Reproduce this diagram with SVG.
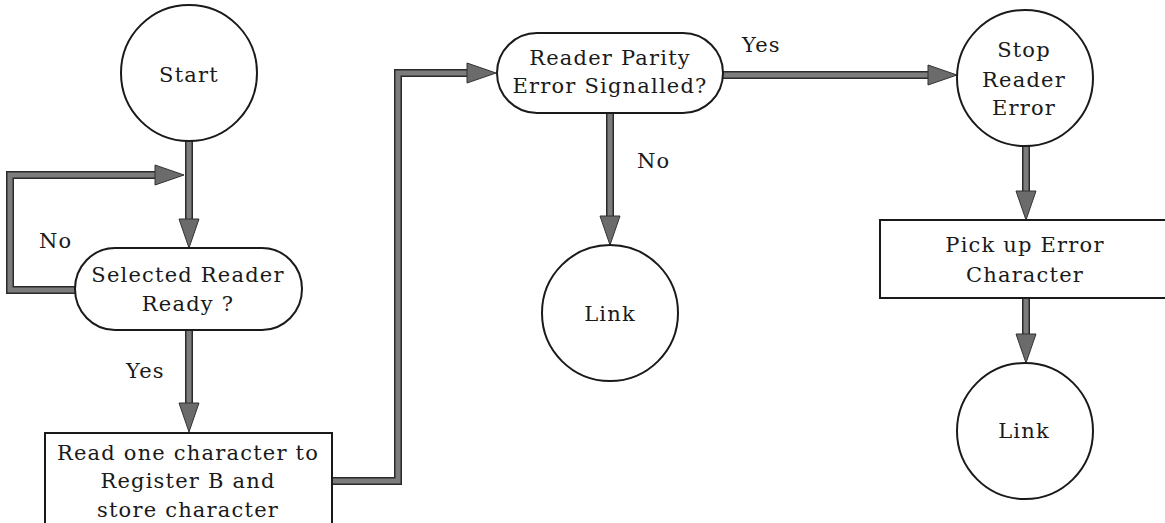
<svg xmlns="http://www.w3.org/2000/svg" xmlns:xlink="http://www.w3.org/1999/xlink" width="1165" height="523" viewBox="0 0 1165 523">
  <style>
    .shape { fill: #ffffff; stroke: #1a1a1a; stroke-width: 2; }
    .txt { font-family: "DejaVu Serif", "Liberation Serif", serif; font-size: 21px; letter-spacing: 1.2px; fill: #1a1a1a; text-anchor: middle; }
    .lbl { font-family: "DejaVu Serif", "Liberation Serif", serif; font-size: 21px; letter-spacing: 1.2px; fill: #1a1a1a; }
    .wire-out { fill: none; stroke: #2a2a2a; stroke-width: 8; stroke-linejoin: miter; }
    .wire-in { fill: none; stroke: #7c7c7c; stroke-width: 5; stroke-linejoin: miter; }
    .head { fill: #6b6b6b; stroke: #333333; stroke-width: 1; stroke-linejoin: round; }
  </style>
  <defs>
    <!-- arrowhead pointing down, tip at the origin -->
    <polygon id="ah" points="-10,-29 10,-29 0,0"/>
    <path id="w1" d="M189,141 V222"/>
    <path id="w2" d="M75,290 H10 V175 H158"/>
    <path id="w3" d="M189,330 V406"/>
    <path id="w4" d="M332,481 H398 V73 H469"/>
    <path id="w5" d="M610,113 V219"/>
    <path id="w6" d="M723,75 H931"/>
    <path id="w7" d="M1026,146 V194"/>
    <path id="w8" d="M1026,298 V337"/>
  </defs>

  <rect width="1165" height="523" fill="#ffffff"/>

  <g id="connectors">
    <use xlink:href="#w1" class="wire-out"/><use xlink:href="#w1" class="wire-in"/>
    <use xlink:href="#w2" class="wire-out"/><use xlink:href="#w2" class="wire-in"/>
    <use xlink:href="#w3" class="wire-out"/><use xlink:href="#w3" class="wire-in"/>
    <use xlink:href="#w4" class="wire-out"/><use xlink:href="#w4" class="wire-in"/>
    <use xlink:href="#w5" class="wire-out"/><use xlink:href="#w5" class="wire-in"/>
    <use xlink:href="#w6" class="wire-out"/><use xlink:href="#w6" class="wire-in"/>
    <use xlink:href="#w7" class="wire-out"/><use xlink:href="#w7" class="wire-in"/>
    <use xlink:href="#w8" class="wire-out"/><use xlink:href="#w8" class="wire-in"/>
    <use xlink:href="#ah" class="head" transform="translate(189,248)"/>
    <use xlink:href="#ah" class="head" transform="translate(184,175) rotate(-90)"/>
    <use xlink:href="#ah" class="head" transform="translate(189,432)"/>
    <use xlink:href="#ah" class="head" transform="translate(496,73) rotate(-90)"/>
    <use xlink:href="#ah" class="head" transform="translate(610,245)"/>
    <use xlink:href="#ah" class="head" transform="translate(957,75) rotate(-90)"/>
    <use xlink:href="#ah" class="head" transform="translate(1026,220)"/>
    <use xlink:href="#ah" class="head" transform="translate(1026,363)"/>
    <text class="lbl" x="39" y="248">No</text>
    <text class="lbl" x="126" y="378">Yes</text>
    <text class="lbl" x="637" y="168">No</text>
    <text class="lbl" x="742" y="52">Yes</text>
  </g>

  <g id="start">
    <circle class="shape" cx="189" cy="73" r="68"/>
    <text class="txt" x="189" y="82">Start</text>
  </g>

  <g id="reader-ready">
    <rect class="shape" x="75" y="248" width="227" height="82" rx="40" ry="41"/>
    <text class="txt" x="188" y="282">Selected Reader</text>
    <text class="txt" x="188" y="311">Ready ?</text>
  </g>

  <g id="read-char">
    <rect class="shape" x="45" y="433" width="287" height="110"/>
    <text class="txt" x="188" y="460">Read one character to</text>
    <text class="txt" x="188" y="488">Register B and</text>
    <text class="txt" x="188" y="517">store character</text>
  </g>

  <g id="parity-check">
    <rect class="shape" x="497" y="33" width="226" height="80" rx="40" ry="40"/>
    <text class="txt" x="610" y="65">Reader Parity</text>
    <text class="txt" x="610" y="93">Error Signalled?</text>
  </g>

  <g id="link-a">
    <circle class="shape" cx="610" cy="313" r="68"/>
    <text class="txt" x="610" y="321">Link</text>
  </g>

  <g id="stop-error">
    <circle class="shape" cx="1025" cy="78" r="68"/>
    <text class="txt" x="1024" y="57">Stop</text>
    <text class="txt" x="1024" y="87">Reader</text>
    <text class="txt" x="1024" y="115">Error</text>
  </g>

  <g id="pick-up">
    <rect class="shape" x="880" y="220" width="292" height="78"/>
    <text class="txt" x="1025" y="252">Pick up Error</text>
    <text class="txt" x="1025" y="282">Character</text>
  </g>

  <g id="link-b">
    <circle class="shape" cx="1025" cy="431" r="68"/>
    <text class="txt" x="1024" y="438">Link</text>
  </g>
</svg>
